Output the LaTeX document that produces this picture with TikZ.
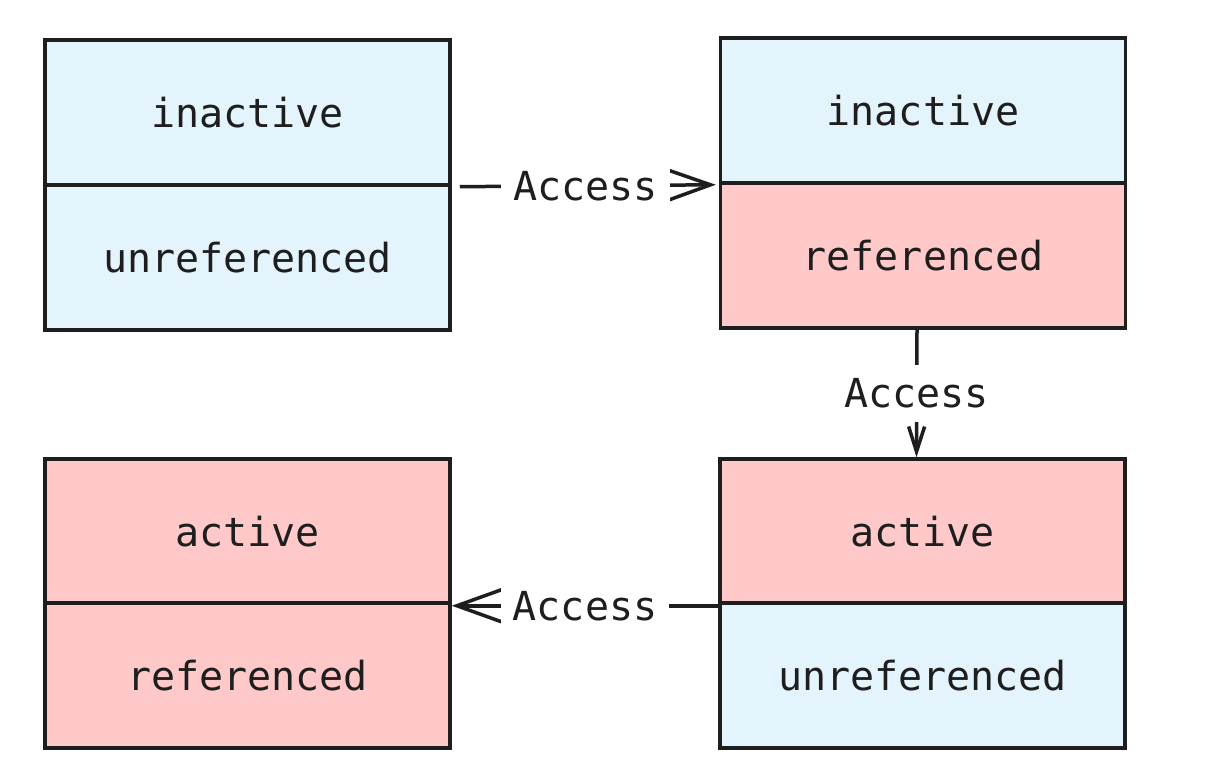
\documentclass[tikz,border=0pt]{standalone}
\usepackage{fontspec}
\setmonofont{DejaVu Sans Mono}
\usetikzlibrary{arrows.meta}

\definecolor{inkline}{HTML}{1E1E1E}
\definecolor{coldblue}{HTML}{E3F4FD}
\definecolor{hotred}{HTML}{FFC9C9}

\tikzset{
    half/.style={draw=inkline, line width=3.5pt, minimum width=405pt,
        minimum height=145pt, inner sep=0pt,
        font=\ttfamily\fontsize{40}{44}\selectfont, text=inkline},
    access/.style={draw=inkline, line width=3.5pt},
    accesslabel/.style={fill=white, inner xsep=12pt, inner ysep=14pt,
        font=\ttfamily\fontsize{40}{44}\selectfont, text=inkline}
}

\begin{document}
\begin{tikzpicture}[x=1pt, y=-1pt]
                \useasboundingbox[fill=white] (0,0) rectangle (1231,784);

                % First page
                \node[half, fill=coldblue] (tlTop) at (247.5,112.5) {inactive};
                \node[half, fill=coldblue] (tlBot) at (247.5,257.5) {unreferenced};

                % Second page
                \node[half, fill=coldblue] (trTop) at (923,110.5) {inactive};
                \node[half, fill=hotred] (trBot) at (923,255.5) {referenced};

                % Third page
                \node[half, fill=hotred] (brTop) at (922.5,531.5) {active};
                \node[half, fill=coldblue] (brBot) at (922.5,675.5) {unreferenced};

                % Fourth page
                \node[half, fill=hotred] (blTop) at (247.5,531.5) {active};
                \node[half, fill=hotred] (blBot) at (247.5,675.5) {referenced};

                \draw[access, -{Straight Barb[length=45pt,width=32pt]}, shorten <=8pt, shorten >=3pt]
                    (tlTop.south east) -- node[accesslabel] {Access} (trTop.south west);
                \draw[access, -{Straight Barb[length=25pt,width=16pt]}]
                    ([xshift=-6pt]trBot.south) -- node[accesslabel] {Access} ([xshift=-6pt]brTop.north);
                \draw[access, -{Straight Barb[length=50pt,width=36pt]}]
                    (brTop.south west) -- node[accesslabel] {Access} (blTop.south east);
            \end{tikzpicture}
\end{document}
